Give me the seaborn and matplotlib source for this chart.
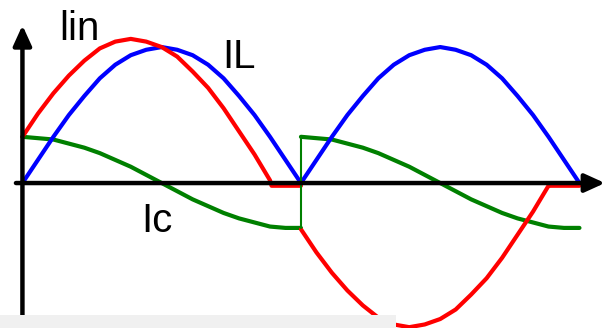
"""Correntes lin, IL e Ic em meio periodo / periodo completo"""

import matplotlib.pyplot as plt
from matplotlib.patches import Rectangle
import seaborn as sns

# Angulo (graus) dos pontos
angulos = [0, 10, 20, 30, 40, 50, 60, 70, 80, 90, 100, 110, 120, 130, 140, 150, 160, 170, 180,
           190, 200, 210, 220, 230, 240, 250, 260, 270, 280, 290, 300, 310, 320, 330, 340, 350, 360]

# IL (azul) - senoide retificada
il = [0, 0.17, 0.34, 0.50, 0.64, 0.77, 0.87, 0.94, 0.98, 1.0, 0.98, 0.94, 0.87, 0.77, 0.64, 0.50, 0.34, 0.17, 0,
      0.17, 0.34, 0.50, 0.64, 0.77, 0.87, 0.94, 0.98, 1.0, 0.98, 0.94, 0.87, 0.77, 0.64, 0.50, 0.34, 0.17, 0]

# Ic (verde) - duas metades, com salto em 180 graus
ang_meio1 = [0, 10, 20, 30, 40, 50, 60, 70, 80, 90, 100, 110, 120, 130, 140, 150, 160, 170, 180]
ang_meio2 = [180, 190, 200, 210, 220, 230, 240, 250, 260, 270, 280, 290, 300, 310, 320, 330, 340, 350, 360]
ic_meio = [0.34, 0.33, 0.32, 0.29, 0.26, 0.22, 0.17, 0.12, 0.06, 0, -0.06, -0.12, -0.17, -0.22,
           -0.26, -0.29, -0.32, -0.33, -0.33]
ang_salto = [180, 180]
ic_salto = [-0.33, 0.34]

# lin (vermelho) - primeira metade positiva, segunda negativa
ang_in1 = [0, 10, 20, 30, 40, 50, 60, 70, 80, 90, 100, 110, 120, 130, 140, 150, 160, 161, 170, 180]
in1 = [0.34, 0.51, 0.66, 0.79, 0.90, 0.99, 1.04, 1.06, 1.04, 1.0, 0.93, 0.82, 0.70, 0.55, 0.38,
       0.21, 0.02, -0.02, -0.02, -0.02]
ang_in2 = [180, 190, 200, 210, 220, 230, 240, 250, 260, 270, 280, 290, 300, 310, 320, 330, 340, 341, 350, 360]
in2 = [-0.34, -0.51, -0.66, -0.79, -0.90, -0.99, -1.04, -1.06, -1.04, -1.0, -0.93, -0.82, -0.70,
       -0.55, -0.38, -0.21, -0.02, -0.02, -0.02, -0.02]

sns.set_theme(style="white")
plt.rcParams['font.family'] = ['Liberation Sans', 'DejaVu Sans']

fig = plt.figure(figsize=(6.07, 3.28), dpi=100)
ax = fig.add_axes([0, 0, 1, 1])

# Curvas (verde embaixo, vermelho em cima)
verde, azul, vermelho = "#008000", "#0000ff", "#ff0000"
sns.lineplot(x=ang_meio1, y=ic_meio, color=verde, lw=3, estimator=None, sort=False, ax=ax, zorder=2)
sns.lineplot(x=ang_meio2, y=ic_meio, color=verde, lw=3, estimator=None, sort=False, ax=ax, zorder=2)
sns.lineplot(x=angulos, y=il, color=azul, lw=3, estimator=None, sort=False, ax=ax, zorder=3)
sns.lineplot(x=ang_in1, y=in1, color=vermelho, lw=3, estimator=None, sort=False, ax=ax, zorder=4)
sns.lineplot(x=ang_in2, y=in2, color=vermelho, lw=3, estimator=None, sort=False, ax=ax, zorder=4)
sns.lineplot(x=ang_salto, y=ic_salto, color=verde, lw=1.5, estimator=None, sort=False, ax=ax, zorder=5)

# Limites em graus / amplitude
ax.set_xlim(-14.5, 377.8)
ax.set_ylim(-1.066, 1.346)
ax.axis("off")

# Eixos com setas
seta = dict(arrowstyle="-|>,head_length=0.55,head_width=0.25", lw=3.2, color="black",
            mutation_scale=22, shrinkA=0, shrinkB=0)
ax.annotate("", xy=(376.5, 0), xytext=(-4.2, 0), arrowprops=seta, zorder=6)
ax.annotate("", xy=(0, 1.16), xytext=(0, -1.1), arrowprops=seta, zorder=6)

# Rotulos
ax.text(24, 1.05, "lin", fontsize=29, color="black", va="baseline", ha="left")
ax.text(129, 0.846, "IL", fontsize=29, color="black", va="baseline", ha="left")
ax.text(76.6, -0.36, "Ic", fontsize=29, color="black", va="baseline", ha="left")

# Faixa cinza no rodape
ax.add_patch(Rectangle((0, 0), 396 / 607, 13 / 328, transform=fig.transFigure,
                       facecolor="#f0f0f0", edgecolor="none", zorder=10, clip_on=False))

plt.savefig("out.png", dpi=100)
